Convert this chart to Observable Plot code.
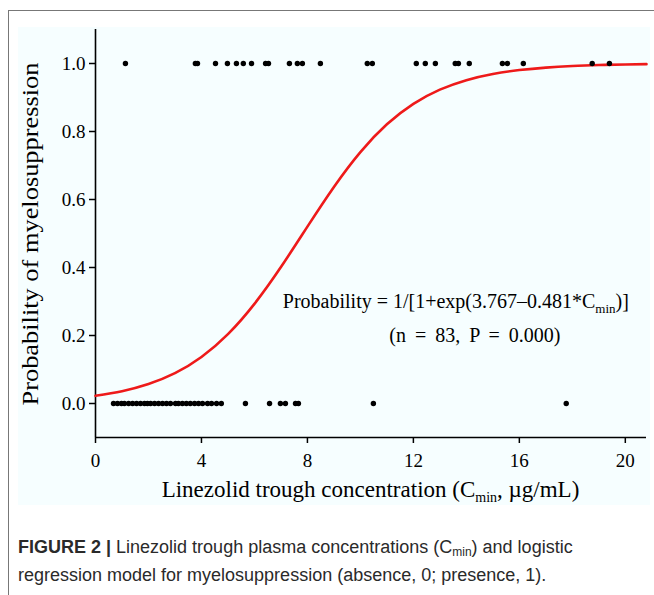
<!DOCTYPE html>
<html><head><meta charset="utf-8">
<script src="https://cdn.jsdelivr.net/npm/d3@7"></script>
<script src="https://cdn.jsdelivr.net/npm/@observablehq/plot@0.6"></script>
<style>
body{margin:0;background:#fff;overflow:hidden;}
#frame{position:absolute;left:8px;top:10px;width:700px;height:620px;border-top:1.5px solid #777;border-left:1.5px solid #777;}
#chart{position:absolute;left:18px;top:27px;width:632px;height:478px;background:#f6feff;}
#chart svg{display:block;}
#caption{position:absolute;left:18px;top:533px;width:580px;font-family:"Liberation Sans",Arial,sans-serif;font-size:18px;line-height:28px;color:#2a2a2a;}
#caption sub{font-size:12px;vertical-align:-3px;line-height:0;}
</style></head>
<body>
<div id="frame"></div>
<div id="chart"></div>
<div id="caption"><b>FIGURE 2 |</b> Linezolid trough plasma concentrations (C<sub>min</sub>) and logistic regression model for myelosuppression (absence, 0; presence, 1).</div>
<script>
// Observed Cmin values, absence of myelosuppression (0)
const absentCmin = [0.68,0.83,0.98,1.09,1.25,1.40,1.55,1.70,1.85,1.96,
  2.08,2.23,2.38,2.53,2.68,2.83,3.02,
  3.13,3.28,3.43,3.58,3.74,3.89,4.04,4.23,
  4.38,4.57,4.75,5.66,6.57,6.98,7.17,7.55,7.66,10.49,17.77];
// Observed Cmin values, presence of myelosuppression (1)
const presentCmin = [1.13,3.77,3.85,4.53,4.98,5.32,5.58,5.89,6.42,6.53,7.32,7.62,7.81,8.49,
  10.26,10.45,12.11,12.45,12.83,13.58,13.70,14.11,15.36,15.55,16.15,18.75,19.40];
// Fitted logistic curve read at sample concentrations
const curveX = [0,1,2,3,4,5,6,7,8,9,10,11,12,13,14,15,16,17,18,19,20,20.8];
const curveP = [0.0226,0.0360,0.0571,0.0891,0.1367,0.2039,0.2930,0.4013,0.5202,0.6369,0.7395,
  0.8211,0.8813,0.9231,0.9510,0.9692,0.9807,0.9880,0.9925,0.9954,0.9971,0.9981];
const xTicks = [0,4,8,12,16,20];
const yTicks = [0,0.2,0.4,0.6,0.8,1.0];

const points = [
  ...absentCmin.map(c => ({c, p: 0})),
  ...presentCmin.map(c => ({c, p: 1}))
];
const curve = curveX.map((c, i) => ({c, p: curveP[i]}));

const serif = "'Liberation Serif','Times New Roman',serif";
const plot = Plot.plot({
  width: 632, height: 478,
  marginLeft: 77, marginRight: 4, marginTop: 2, marginBottom: 68,
  style: {background: "transparent", fontFamily: serif, color: "#000"},
  x: {domain: [0, 20.8]},
  y: {domain: [-0.1, 1.1]},
  marks: [
    Plot.axisX({ticks: xTicks, tickSize: 6, tickPadding: 10, fontSize: 19, label: null, strokeWidth: 1.5}),
    Plot.axisY({ticks: yTicks, tickFormat: ".1f", tickSize: 6, tickPadding: 4, fontSize: 19, label: null, strokeWidth: 1.5}),
    Plot.ruleX([0], {stroke: "#000", strokeWidth: 1.6}),
    Plot.ruleY([-0.1], {stroke: "#000", strokeWidth: 1.6}),
    Plot.line(curve, {x: "c", y: "p", stroke: "#ee1a1a", strokeWidth: 2.6, curve: "natural"}),
    Plot.dot(points, {x: "c", y: "p", r: 2.7, fill: "#000", stroke: "none"})
  ]
});
document.getElementById("chart").appendChild(plot);

const sx = plot.scale("x"), sy = plot.scale("y");
const svg = d3.select(plot);

// x axis label
const xl = svg.append("text")
  .attr("x", (sx.apply(0) + sx.apply(20.8)) / 2).attr("y", 470)
  .attr("text-anchor", "middle").attr("font-family", serif).attr("font-size", 23).attr("fill", "#000");
xl.append("tspan").text("Linezolid trough concentration (C");
xl.append("tspan").attr("font-size", 14).attr("dy", 5).text("min");
xl.append("tspan").attr("dy", -5).text(", \u00b5g/mL)");

// y axis label
svg.append("text")
  .attr("transform", `translate(20,${(sy.apply(-0.1) + sy.apply(1.1)) / 2 + 1}) rotate(-90)`)
  .attr("text-anchor", "middle").attr("font-family", serif).attr("font-size", 23).attr("fill", "#000")
  .attr("textLength", 343).attr("lengthAdjust", "spacingAndGlyphs")
  .text("Probability of myelosuppression");

// model annotation
const a1 = svg.append("text")
  .attr("x", sx.apply(7.09)).attr("y", sy.apply(0.279))
  .attr("text-anchor", "start").attr("font-family", serif).attr("font-size", 20).attr("fill", "#000");
a1.append("tspan").text("Probability = 1/[1+exp(3.767\u20130.481*C");
a1.append("tspan").attr("font-size", 13).attr("dy", 5).text("min");
a1.append("tspan").attr("dy", -5).text(")]");

svg.append("text")
  .attr("x", sx.apply(14.34)).attr("y", sy.apply(0.179))
  .attr("text-anchor", "middle").attr("font-family", serif).attr("font-size", 20).attr("fill", "#000")
  .attr("word-spacing", 4)
  .text("(n = 83, P = 0.000)");
</script>
</body></html>
